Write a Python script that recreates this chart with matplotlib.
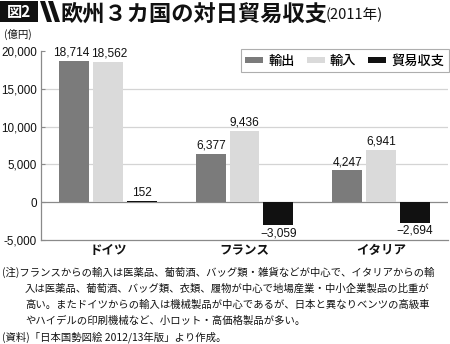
import matplotlib
matplotlib.use("Agg")
import matplotlib.pyplot as plt
from matplotlib import font_manager
from matplotlib.patches import Rectangle, Polygon, Patch
import numpy as np

countries = ["ドイツ", "フランス", "イタリア"]
series_names = ["輸出", "輸入", "貿易収支"]
exports = [18714, 6377, 4247]
imports = [18562, 9436, 6941]
balance = [152, -3059, -2694]
yticks = [-5000, 0, 5000, 10000, 15000, 20000]
ytick_labels = ["-5,000", "0", "5,000", "10,000", "15,000", "20,000"]
title = "欧州３カ国の対日貿易収支"
subtitle = "(2011年)"
unit = "(億円)"
notes = [
    "(注)フランスからの輸入は医薬品、葡萄酒、バッグ類・雑貨などが中心で、イタリアからの輸",
    "入は医薬品、葡萄酒、バッグ類、衣類、履物が中心で地場産業・中小企業製品の比重が",
    "高い。またドイツからの輸入は機械製品が中心であるが、日本と異なりベンツの高級車",
    "やハイデルの印刷機械など、小ロット・高価格製品が多い。",
    "(資料)「日本国勢図絵 2012/13年版」より作成。",
]

names = {f.name for f in font_manager.fontManager.ttflist}
narrow = "DejaVu Sans"
for c in ["Liberation Sans Narrow", "Liberation Sans", "Roboto"]:
    if c in names:
        narrow = c
        break
JP = "Noto Sans CJK JP"
plt.rcParams["font.family"] = [JP, "DejaVu Sans"]

W, H = 450, 344
fig = plt.figure(figsize=(W / 100, H / 100), dpi=100)

def fx(px):
    return px / W

def fy(py):
    return 1 - py / H

ax = fig.add_axes([fx(41), fy(240), fx(448) - fx(41), fy(51) - fy(240)])
ax.set_ylim(-5000, 20000)
ax.set_xlim(-0.49, 2.49)

x = np.arange(len(countries))
off = 0.247
bw = 0.218
colors = ["#7b7b7b", "#dadada", "#111111"]
label_dx = {(0, 0): -3, (0, 1): 1}
for i, (vals, col) in enumerate(zip([exports, imports, balance], colors)):
    xs = x + (i - 1) * off
    ax.bar(xs, vals, width=bw, color=col, zorder=3, label=series_names[i])
    for j, (xx, v) in enumerate(zip(xs, vals)):
        dx = label_dx.get((j, i), 0) * 0.72
        txt = f"{v:,}" if v >= 0 else "−" + f"{-v:,}"
        if v >= 0:
            ax.annotate(txt, (xx, v), xytext=(dx, 1.5), textcoords="offset points",
                        ha="center", va="bottom", fontsize=8.6, family=narrow, color="#111111")
        else:
            ax.annotate(txt, (xx, v), xytext=(dx, -1.5), textcoords="offset points",
                        ha="center", va="top", fontsize=8.6, family=narrow, color="#111111")

for g in [5000, 10000, 15000]:
    ax.axhline(g, color="#d4d4d4", lw=0.9, zorder=1)
ax.axhline(0, color="#8a8a8a", lw=0.9, zorder=2)

for s in ["top", "right"]:
    ax.spines[s].set_visible(False)
ax.spines["left"].set_color("#8a8a8a")
ax.spines["bottom"].set_color("#8a8a8a")
ax.spines["left"].set_linewidth(0.9)
ax.spines["bottom"].set_linewidth(0.9)

ax.set_yticks(yticks)
ax.set_yticklabels(ytick_labels, family=narrow, fontsize=8.4, color="#111111")
ax.tick_params(axis="y", direction="in", length=3, color="#8a8a8a", pad=3)
ax.set_xticks(x)
ax.set_xticklabels(countries, fontsize=9, fontweight="bold", color="#111111")
ax.tick_params(axis="x", length=0, pad=3)

handles = [Patch(facecolor=c) for c in colors]
leg = ax.legend(handles, series_names, loc="upper right", bbox_to_anchor=(fx(449), fy(49)),
                bbox_transform=fig.transFigure, ncol=3, frameon=True, fancybox=False,
                handlelength=1.35, handleheight=0.4, handletextpad=0.4, columnspacing=0.9,
                borderpad=0.35, borderaxespad=0,
                prop={"family": [JP], "size": 9.5, "weight": "medium"})
leg.get_frame().set_edgecolor("#9a9a9a")
leg.get_frame().set_linewidth(0.8)

# title block
fig.patches.append(Rectangle((0, fy(22)), fx(38), fy(1) - fy(22), transform=fig.transFigure,
                             facecolor="#111111", edgecolor="none"))
fig.text(fx(19), fy(12), "図2", color="white", fontsize=11, fontweight="bold",
         ha="center", va="center")
for x0 in [40, 48]:
    fig.patches.append(Polygon([(fx(x0), fy(1)), (fx(x0 + 5), fy(1)), (fx(x0 + 12), fy(22)),
                                (fx(x0 + 7), fy(22))], closed=True, transform=fig.transFigure,
                               facecolor="#111111", edgecolor="none"))
fig.text(fx(60), fy(14), title, fontsize=16, fontweight="bold", ha="left", va="center",
         color="#111111")
fig.text(fx(326), fy(15), subtitle, fontsize=10.5, ha="left", va="center", color="#111111")
fig.text(fx(4), fy(34), unit, fontsize=7.5, ha="left", va="center", color="#111111")

ys = [272, 289, 305, 321, 337]
xs0 = [2, 25, 25, 25, 2]
for t, yy, xx in zip(notes, ys, xs0):
    fig.text(fx(xx), fy(yy), t, fontsize=7.45, ha="left", va="center", color="#111111")

fig.savefig("out.png", dpi=100)
